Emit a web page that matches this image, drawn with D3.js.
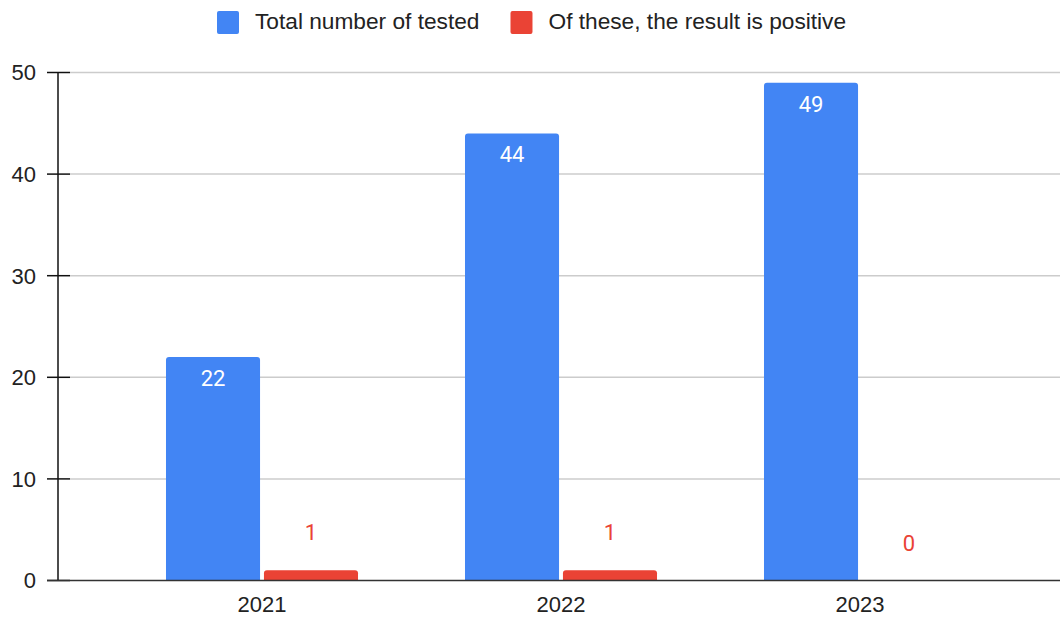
<!DOCTYPE html>
<html>
  <head>
    <meta charset="utf-8" />
    <script src="https://d3js.org/d3.v7.min.js"></script>
    <style>
      body { margin: 0; background: #fff; }
      text { font-family: Arial, "Liberation Sans", sans-serif; }
      .grid line { stroke: #cccccc; stroke-width: 1.5px; }
      .axis-label { font-size: 22px; fill: #222; }
      .legend-label { font-size: 22.7px; fill: #222; }
      .data-label { font-family: Roboto, sans-serif; font-size: 22px; }
    </style>
  </head>
  <body>
    <svg id="chart" width="1060" height="619"></svg>
  <script>

  var years = ["2021", "2022", "2023"];
  var series = ["Total number of tested", "Of these, the result is positive"];
  var tested = [22, 44, 49];
  var positive = [1, 1, 0];
  var yTicks = [0, 10, 20, 30, 40, 50];
  var colors = ["#4285f4", "#ea4335"];

  var svg = d3.select("#chart");

  var x = d3.scaleBand().domain(years).range([112.5, 1009.5]);
  var xSub = d3.scaleBand().domain(series)
    .range([0, x.bandwidth()])
    .paddingInner(0.04)
    .paddingOuter(0.546);
  var y = d3.scaleLinear().domain([0, 50]).range([580.5, 72.5]);

  // gridlines
  svg.append("g").attr("class", "grid")
    .selectAll("line")
    .data(yTicks.filter(function(d) { return d > 0; }))
    .enter().append("line")
    .attr("x1", 70).attr("x2", 1060)
    .attr("y1", function(d) { return y(d); })
    .attr("y2", function(d) { return y(d); });

  // y axis
  var yAxis = svg.append("g");
  yAxis.append("line")
    .attr("x1", 58).attr("x2", 58)
    .attr("y1", y(50)).attr("y2", y(0))
    .attr("stroke", "#111").attr("stroke-width", 1.5);
  yAxis.selectAll(".tick")
    .data(yTicks)
    .enter().append("line")
    .attr("x1", 47).attr("x2", 70)
    .attr("y1", function(d) { return y(d); })
    .attr("y2", function(d) { return y(d); })
    .attr("stroke", "#111").attr("stroke-width", 1.5);
  yAxis.selectAll(".axis-label")
    .data(yTicks)
    .enter().append("text")
    .attr("class", "axis-label")
    .attr("x", 36)
    .attr("y", function(d) { return y(d); })
    .attr("dy", "0.36em")
    .attr("text-anchor", "end")
    .text(function(d) { return d; });

  // bars, rounded on top
  function barPath(x0, w, v) {
    var top = y(v), bot = y(0), r = Math.min(3, bot - top);
    if (bot - top <= 0) return "";
    return "M" + x0 + "," + bot +
      "V" + (top + r) +
      "Q" + x0 + "," + top + " " + (x0 + r) + "," + top +
      "H" + (x0 + w - r) +
      "Q" + (x0 + w) + "," + top + " " + (x0 + w) + "," + (top + r) +
      "V" + bot + "Z";
  }

  var rows = years.map(function(yr, i) {
    return { year: yr, values: [tested[i], positive[i]] };
  });

  var groups = svg.selectAll(".group")
    .data(rows)
    .enter().append("g")
    .attr("class", "group")
    .attr("transform", function(d) { return "translate(" + x(d.year) + ",0)"; });

  groups.selectAll("path")
    .data(function(d) { return d.values.map(function(v, j) { return { s: series[j], v: v, j: j }; }); })
    .enter().append("path")
    .attr("fill", function(d) { return colors[d.j]; })
    .attr("d", function(d) { return barPath(xSub(d.s), xSub.bandwidth(), d.v); });

  groups.selectAll(".data-label")
    .data(function(d) { return d.values.map(function(v, j) { return { s: series[j], v: v, j: j }; }); })
    .enter().append("text")
    .attr("class", "data-label")
    .attr("text-anchor", "middle")
    .attr("x", function(d) { return xSub(d.s) + xSub.bandwidth() / 2; })
    .attr("y", function(d) { return d.j === 0 ? y(d.v) + 29 : y(d.v) - 30; })
    .attr("fill", function(d) { return d.j === 0 ? "#ffffff" : colors[1]; })
    .text(function(d) { return d.v; });

  // x axis baseline
  svg.append("line")
    .attr("x1", 47).attr("x2", 1060)
    .attr("y1", y(0)).attr("y2", y(0))
    .attr("stroke", "#333").attr("stroke-width", 1.5);

  svg.selectAll(".x-label")
    .data(years)
    .enter().append("text")
    .attr("class", "axis-label x-label")
    .attr("text-anchor", "middle")
    .attr("x", function(d) { return x(d) + x.bandwidth() / 2; })
    .attr("y", 612)
    .text(function(d) { return d; });

  // legend
  var legend = svg.append("g");
  var lx = 217;
  series.forEach(function(s, i) {
    legend.append("rect")
      .attr("x", lx).attr("y", 11)
      .attr("width", 22).attr("height", 23)
      .attr("rx", 2)
      .attr("fill", colors[i]);
    var t = legend.append("text")
      .attr("class", "legend-label")
      .attr("x", lx + 38).attr("y", 29)
      .text(s);
    lx = lx + 38 + t.node().getComputedTextLength() + 31;
  });

  </script>
  </body>
</html>
